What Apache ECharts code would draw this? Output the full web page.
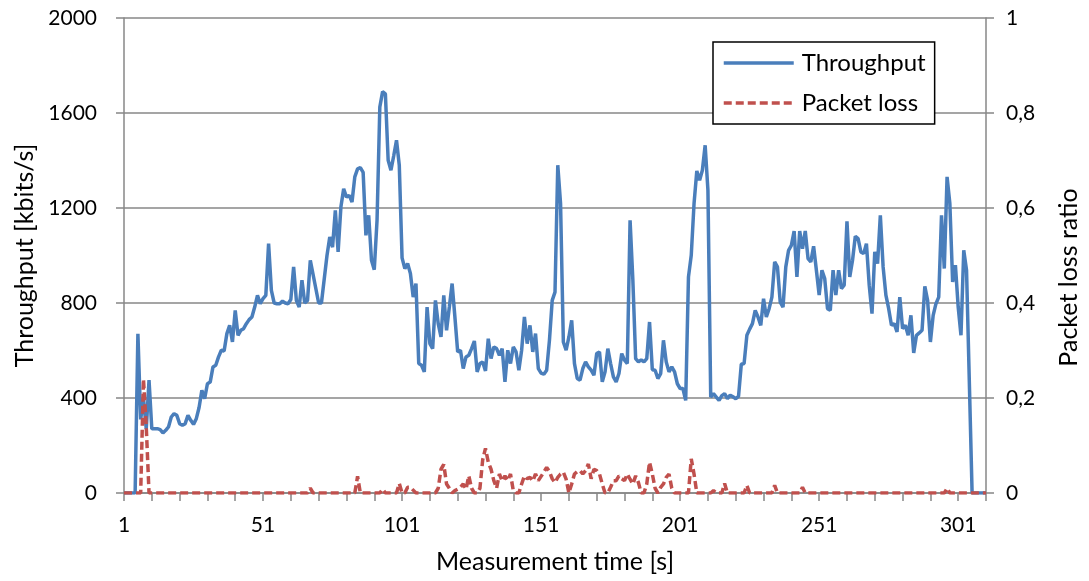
<!DOCTYPE html>
<html>
<head>
<meta charset="utf-8">
<script src="https://cdn.jsdelivr.net/npm/echarts@6/dist/echarts.min.js"></script>
<style>html,body{margin:0;padding:0;background:#fff}#c{width:1089px;height:581px}</style>
</head>
<body>
<div id="c"></div>
<script>
// Measurement time (s): 1 .. 311
const categories = Array.from({length: 311}, (_, i) => String(i + 1));
const xTickLabels = ['1', '51', '101', '151', '201', '251', '301'];
const leftTicks = [0, 400, 800, 1200, 1600, 2000];
const rightTicks = ['0', '0,2', '0,4', '0,6', '0,8', '1'];

const throughput = [
  0,0,0,0,0, 670,310,400,270,475,
  270,271,271,267,253, 264,278,320,334,327,
  292,285,292,327,306, 289,313,360,432,397,
  460,467,531,538,573, 601,598,671,706,636,
  769,664,685,692,713, 730,741,783,832,797,
  818,832,1050,853,800, 797,797,808,800,797,
  815,952,810,783,896, 800,811,980,920,860,
  800,800,900,1000,1078, 1035,1190,1015,1204,1281,
  1246,1253,1225,1331,1365, 1370,1350,1085,1169,980,
  940,1148,1625,1690,1681, 1401,1359,1420,1485,1380,
  990,945,966,924,825, 882,545,538,510,783,
  629,608,811,713,657, 832,685,783,882,741,
  594,601,524,573,580, 608,640,510,545,552,
  514,650,566,615,608, 580,608,468,601,545,
  615,594,517,601,741, 629,706,594,671,524,
  505,500,517,643,811, 846,1380,1218,636,601,
  657,727,545,482,475, 524,552,531,517,496,
  587,594,468,510,608, 545,489,468,503,587,
  559,545,1148,896,566, 552,561,552,566,720,
  519,517,482,503,643, 552,510,531,510,460,
  440,440,390,910,1001, 1218,1356,1317,1359,1464,
  1274,404,418,404,390, 410,418,397,412,405,
  397,407,542,545,664, 690,713,769,741,706,
  818,741,776,825,973, 952,804,783,952,1022,
  1043,1103,910,1103,1029, 1103,987,973,1039,938,
  833,938,903,776,769, 938,833,938,861,875,
  1144,910,980,1081,1071, 1015,1008,1050,875,755,
  1015,966,1169,952,833, 776,706,713,678,825,
  692,706,664,748,590, 664,674,685,870,811,
  636,748,797,825,1169, 945,1331,1219,889,959,
  783,664,1022,938,470, 0,0,0,0,0,
  0
];

const packetLoss = [
  0,0,0,0,0, 0,0,0.24,0.14,0,
  0,0,0,0,0, 0,0,0,0,0,
  0,0,0,0,0, 0,0,0,0,0,
  0,0,0,0,0, 0,0,0,0,0,
  0,0,0,0,0, 0,0,0,0,0,
  0,0,0,0,0, 0,0,0,0,0,
  0,0,0,0,0, 0,0,0.01,0,0,
  0,0,0,0,0, 0,0,0,0,0,
  0,0,0,0,0.035, 0,0,0,0,0,
  0,0,0,0.008,0, 0,0,0,0,0.02,
  0,0,0.012,0.012,0.006, 0,0,0,0,0,
  0,0,0,0.01,0.05, 0.06,0.019,0.01,0,0.005,
  0.008,0.012,0.019,0.008,0.036, 0.01,0,0,0.01,0.07,
  0.094,0.065,0.05,0.026,0.01, 0.04,0.025,0.036,0.026,0.04,
  0.005,0,0,0.019,0.036, 0.03,0.033,0.025,0.04,0.026,
  0.035,0.044,0.054,0.045,0.03, 0.022,0.033,0.04,0.044,0.029,
  0,0.019,0.04,0.045,0.047, 0.04,0.047,0.061,0.03,0.05,
  0.047,0.04,0.019,0,0, 0.012,0.026,0.026,0.036,0.03,
  0.026,0.04,0.029,0.019,0.036, 0.022,0,0,0.019,0.065,
  0.04,0.01,0,0.012,0.019, 0.033,0.04,0.01,0,0,
  0,0,0,0,0.072, 0.04,0,0,0,0,
  0,0,0.005,0,0, 0,0.02,0,0,0,
  0,0,0,0,0.016, 0,0,0,0,0,
  0,0,0,0,0.016, 0,0,0,0,0,
  0,0,0,0,0.012, 0,0,0,0,0,
  0,0,0,0,0, 0,0,0,0,0,
  0,0,0,0,0, 0,0,0,0,0,
  0,0,0,0,0, 0,0,0,0,0,
  0,0,0,0,0, 0,0,0,0,0,
  0,0,0,0,0, 0,0.01,0,0,0,
  0,0,0,0,0, 0,0,0,0,0,
  0
];

const FONT = 'Lato';
const GRID = '#878787';
const BLUE = '#4A7EBB';
const RED = '#C0504D';
const chart = echarts.init(document.getElementById('c'), null, {renderer: 'canvas'});
chart.setOption({
  animation: false,
  backgroundColor: '#fff',
  textStyle: {fontFamily: FONT, color: '#000'},
  grid: {left: 124, right: 97, top: 18, bottom: 88, containLabel: false},
  legend: {
    orient: 'vertical', left: 713, top: 42,
    padding: [9, 9, 9, 9],
    itemWidth: 70, itemHeight: 14, itemGap: 16,
    borderColor: '#000', borderWidth: 1.5, backgroundColor: '#fff',
    itemStyle: {opacity: 0},
    textStyle: {fontFamily: FONT, fontSize: 24, color: '#000', padding: [0, 0, 0, 3]},
    data: [
      {name: 'Throughput', lineStyle: {color: BLUE, width: 3.5}},
      {name: 'Packet loss', lineStyle: {color: RED, width: 3.5, type: [8, 4]}}
    ]
  },
  xAxis: {
    type: 'category', data: categories, boundaryGap: false,
    name: 'Measurement time [s]', nameLocation: 'middle', nameGap: 56,
    nameTextStyle: {fontFamily: FONT, fontSize: 25, color: '#000'},
    axisLine: {lineStyle: {color: GRID, width: 1.5}},
    axisTick: {show: true, interval: 9, length: 8, lineStyle: {color: GRID, width: 1.5}},
    axisLabel: {
      interval: (i, v) => xTickLabels.indexOf(v) >= 0,
      fontFamily: FONT, fontSize: 21, color: '#000', margin: 22
    },
    splitLine: {show: false}
  },
  yAxis: [{
    type: 'value', min: leftTicks[0], max: leftTicks[leftTicks.length - 1], interval: 400,
    position: 'left',
    name: 'Throughput [kbits/s]', nameLocation: 'middle', nameGap: 82,
    nameTextStyle: {fontFamily: FONT, fontSize: 25, color: '#000'},
    axisLine: {show: true, lineStyle: {color: GRID, width: 1.5}},
    axisTick: {show: true, length: 8, lineStyle: {color: GRID, width: 1.5}},
    axisLabel: {fontFamily: FONT, fontSize: 21, color: '#000', margin: 27,
      formatter: v => String(v)},
    splitLine: {show: true, lineStyle: {color: GRID, width: 1.5}}
  }, {
    type: 'value', min: 0, max: 1, interval: 0.2,
    position: 'right',
    name: 'Packet loss ratio', nameLocation: 'middle', nameGap: 70, nameRotate: 90,
    nameTextStyle: {fontFamily: FONT, fontSize: 25, color: '#000', padding: [0, 44, 0, 0]},
    axisLine: {show: true, lineStyle: {color: GRID, width: 1.5}},
    axisTick: {show: true, length: 8, lineStyle: {color: GRID, width: 1.5}},
    axisLabel: {
      fontFamily: FONT, fontSize: 21, color: '#000', margin: 20,
      formatter: v => rightTicks[Math.round(v / 0.2)]
    },
    splitLine: {show: false}
  }],
  series: [{
    name: 'Throughput', type: 'line', yAxisIndex: 0, data: throughput,
    symbol: 'none', color: BLUE,
    lineStyle: {color: BLUE, width: 3.5}
  }, {
    name: 'Packet loss', type: 'line', yAxisIndex: 1, data: packetLoss,
    symbol: 'none', color: RED,
    lineStyle: {color: RED, width: 3.5, type: [8, 4]}
  }]
});
</script>
</body>
</html>
